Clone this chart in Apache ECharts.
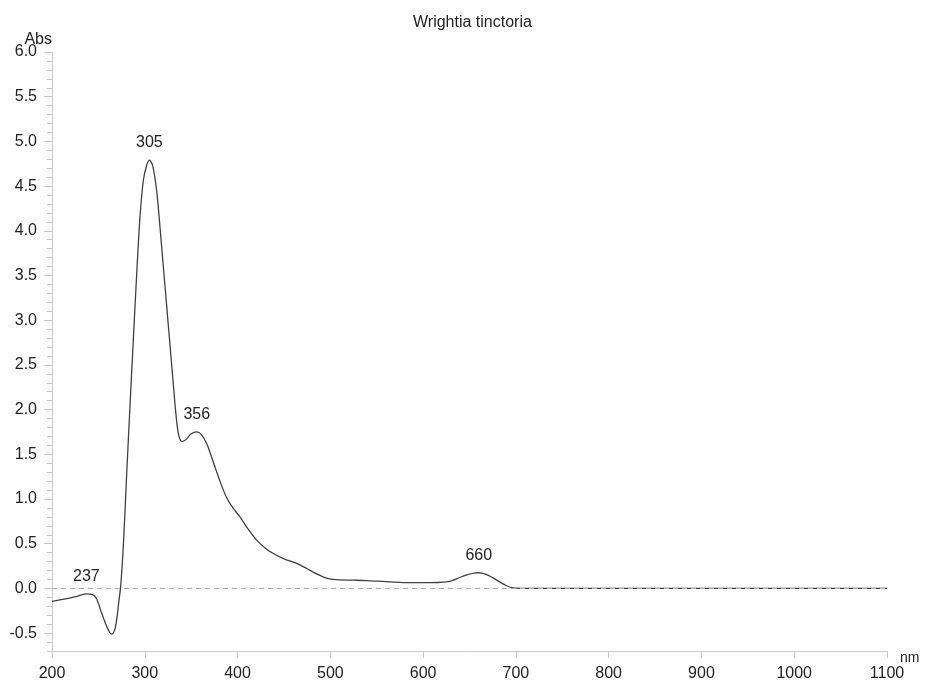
<!DOCTYPE html>
<html>
<head>
<meta charset="utf-8">
<title>Wrightia tinctoria</title>
<script src="https://cdn.jsdelivr.net/npm/echarts@6/dist/echarts.min.js"></script>
<style>
  html, body { margin: 0; padding: 0; background: #fff; }
  #chart { width: 925px; height: 681px; }
</style>
</head>
<body>
<div id="chart"></div>
<script>
// UV-Vis absorption spectrum: wavelength (nm) and absorbance
const wavelengths = [
  200, 210, 220, 228, 237, 243, 248, 253, 258, 262, 264, 266, 268, 270, 272, 274,
  277, 280.5, 284, 287.6, 291.3, 294.8, 298.4, 302, 305, 308.5, 312.8, 316.4, 320,
  323.6, 327.2, 330.8, 333.3, 336, 338.5, 341, 345, 350, 356, 361, 366.7, 371,
  375.6, 381, 388, 395, 402.6, 411, 420.6, 430, 438.5, 450, 463.7, 475, 482, 489,
  496, 503, 510, 525, 539, 560, 582, 600, 615, 625, 632, 640, 648, 655, 660, 668,
  675, 683, 690, 697, 705, 720, 800, 900, 1000, 1100
];
const absorbance = [
  -0.145, -0.125, -0.105, -0.085, -0.06, -0.067, -0.115, -0.26, -0.40, -0.49, -0.51, -0.50, -0.45, -0.33, -0.15, 0.02,
  0.50, 1.28, 2.03, 2.77, 3.52, 4.15, 4.56, 4.73, 4.79, 4.73, 4.45, 4.04, 3.60,
  3.16, 2.72, 2.28, 1.98, 1.74, 1.655, 1.645, 1.67, 1.73, 1.75, 1.72, 1.62, 1.50,
  1.36, 1.20, 1.02, 0.90, 0.80, 0.67, 0.54, 0.45, 0.39, 0.33, 0.28, 0.22, 0.18, 0.145,
  0.115, 0.10, 0.095, 0.092, 0.088, 0.075, 0.065, 0.064, 0.066, 0.072, 0.09, 0.125, 0.155, 0.172, 0.175, 0.158,
  0.12, 0.07, 0.03, 0.005, 0.0, 0.0, 0.0, 0.0, 0.0, 0.0
];

// Labelled absorption maxima
const peakWavelengths = [237, 305, 356, 660];
const peakAbsorbance = [-0.06, 4.79, 1.75, 0.175];

// Axis tick values
const yMajorTicks = [-0.5, 0, 0.5, 1, 1.5, 2, 2.5, 3, 3.5, 4, 4.5, 5, 5.5, 6];
const yMinorTicks = [];
for (let i = -7; i <= 60; i++) yMinorTicks.push(i / 10);

const spectrum = wavelengths.map((w, i) => [w, absorbance[i]]);
const peaks = peakWavelengths.map((w, i) => [w, peakAbsorbance[i]]);

const textColor = '#222';
const axisColor = '#c8c8c8';
const fontFamily = '"Liberation Sans", Arial, sans-serif';

const chart = echarts.init(document.getElementById('chart'), null, { renderer: 'canvas' });

chart.setOption({
  animation: false,
  backgroundColor: '#fff',
  textStyle: { fontFamily: fontFamily },
  title: {
    text: 'Wrightia tinctoria',
    left: 408,
    top: 10,
    textStyle: { fontSize: 16, fontWeight: 'normal', color: textColor, fontFamily: fontFamily }
  },
  grid: { left: 52, right: 38, top: 52, bottom: 30, containLabel: false, outerBoundsMode: 'none' },
  xAxis: {
    type: 'value',
    min: 200,
    max: 1100,
    interval: 100,
    name: 'nm',
    nameLocation: 'end',
    nameGap: 13,
    nameTextStyle: { fontSize: 14, color: textColor, verticalAlign: 'top', padding: [0, 0, 0, 0] },
    axisLine: { show: true, onZero: false, lineStyle: { color: axisColor, width: 1 } },
    axisTick: { show: true, length: 7, lineStyle: { color: axisColor } },
    axisLabel: { fontSize: 16, color: textColor, margin: 15, formatter: v => String(v) },
    splitLine: { show: false }
  },
  yAxis: [
    {
      // minor ticks every 0.1 and the axis line
      type: 'value',
      min: -0.7,
      max: 6,
      position: 'left',
      name: 'Abs',
      nameLocation: 'end',
      nameGap: 4,
      nameTextStyle: { fontSize: 16, color: textColor, align: 'right', verticalAlign: 'bottom' },
      axisLine: { show: true, onZero: false, lineStyle: { color: axisColor, width: 1 } },
      axisTick: { show: true, length: 5, customValues: yMinorTicks, lineStyle: { color: axisColor } },
      axisLabel: { show: false },
      splitLine: { show: false }
    },
    {
      // major ticks and labels every 0.5
      type: 'value',
      min: -0.7,
      max: 6,
      position: 'left',
      axisLine: { show: false },
      axisTick: { show: true, length: 8, customValues: yMajorTicks, lineStyle: { color: axisColor } },
      axisLabel: {
        show: true,
        customValues: yMajorTicks,
        fontSize: 16,
        color: textColor,
        margin: 15,
        formatter: v => v.toFixed(1)
      },
      splitLine: { show: false }
    }
  ],
  series: [
    {
      type: 'line',
      data: spectrum,
      yAxisIndex: 0,
      showSymbol: false,
      smooth: 0.3,
      lineStyle: { color: '#404040', width: 1.3 },
      markLine: {
        silent: true,
        symbol: 'none',
        label: { show: false },
        lineStyle: { color: '#aaaaaa', type: [5, 4], width: 1 },
        data: [{ yAxis: 0 }]
      }
    },
    {
      type: 'scatter',
      data: peaks,
      yAxisIndex: 0,
      symbolSize: 1,
      itemStyle: { color: 'transparent', opacity: 1 },
      label: {
        show: true,
        position: 'top',
        distance: 9,
        fontSize: 16,
        color: textColor,
        opacity: 1,
        formatter: p => String(Math.round(p.value[0]))
      }
    }
  ]
});
</script>
</body>
</html>
